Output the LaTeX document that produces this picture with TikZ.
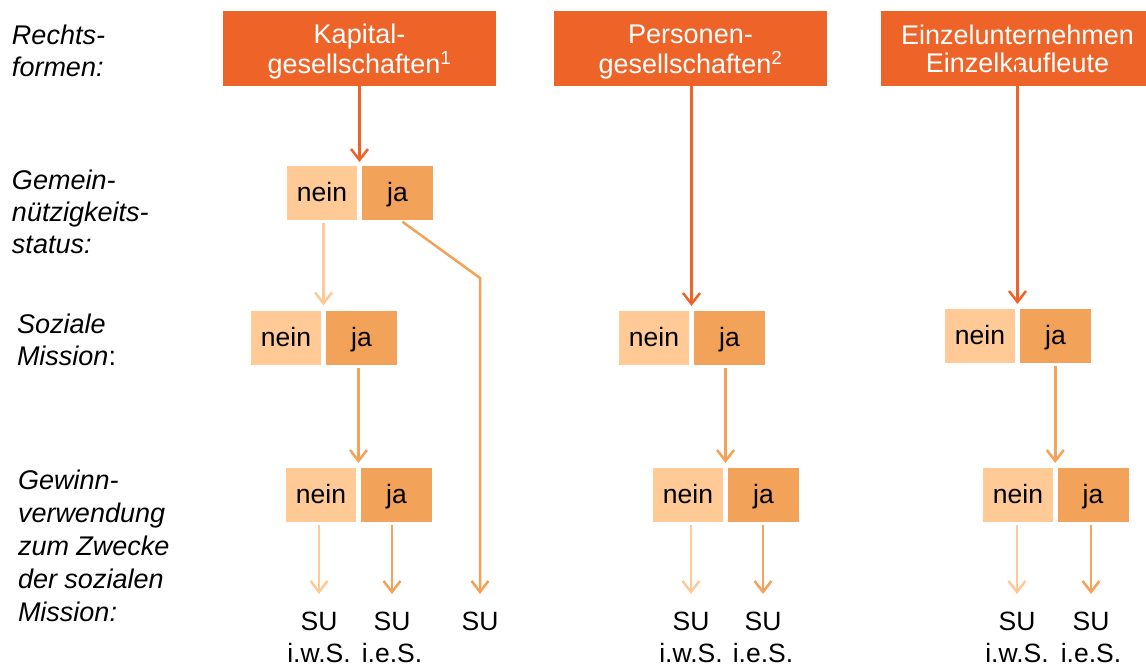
\documentclass[tikz,border=0pt]{standalone}
\usepackage{fontspec}
\setmainfont{Liberation Sans}
\usetikzlibrary{arrows.meta,calc}
\definecolor{dorange}{RGB}{238,100,40}
\definecolor{neinc}{RGB}{255,202,150}
\definecolor{jac}{RGB}{243,162,89}
\begin{document}
\begin{tikzpicture}[x=1pt,y=-1pt,
  every node/.style={inner sep=0pt, outer sep=0pt},
  topbox/.style={fill=dorange, text=white, minimum width=273pt, minimum height=75pt,
    align=center, font=\fontsize{27}{30}\selectfont},
  nbox/.style={fill=neinc, minimum width=70pt, minimum height=54pt,
    text height=19pt, text depth=2pt, font=\fontsize{26.5}{30}\selectfont},
  jbox/.style={fill=jac, minimum width=71pt, minimum height=54pt,
    text height=19pt, text depth=2pt, font=\fontsize{26.5}{30}\selectfont},
  lab/.style={anchor=north west, align=left, font=\fontsize{27}{32}\selectfont\itshape},
  sulab/.style={anchor=north, align=center, font=\fontsize{26.5}{32}\selectfont},
  darr/.style={draw=dorange, line width=2.5pt, -{Straight Barb[length=11pt,width=17pt]}},
  narr/.style={draw=neinc, line width=2.5pt, -{Straight Barb[length=11pt,width=17pt]}},
  jarr/.style={draw=jac, line width=2.5pt, -{Straight Barb[length=11pt,width=17pt]}},
]
\clip (0,0) rectangle (1146,666);
\fill[white] (0,0) rectangle (1146,666);

% left labels
\node[lab] (l1) at (12,25) {Rechts-\\formen:};
\node[lab] (l2) at (12,170) {Gemein-\\nützigkeits-\\status:};
\node[lab] (l3) at (17,314) {Soziale\\Mission\textup{:}};
\node[lab, font=\fontsize{27}{33}\selectfont\itshape] (l4) at (18,470)
  {Gewinn-\\verwendung\\zum Zwecke\\der sozialen\\Mission:};

% top boxes
\node[topbox] (kap) at (359.5,48.5) {\rule{0pt}{25pt}Kapital-\\gesellschaften\textsuperscript{1}};
\node[topbox] (per) at (690.5,48.5) {\rule{0pt}{25pt}Personen-\\gesellschaften\textsuperscript{2}};
\node[topbox, font=\fontsize{27}{28}\selectfont] (ein) at (1017.5,48.5) {Einzelunternehmen\\Einzelkaufleute};

% decision boxes
\node[nbox] (k1n) at (322,193) {nein};
\node[jbox] (k1j) at (397.5,193) {ja};
\node[nbox] (k2n) at (286,337.5) {nein};
\node[jbox] (k2j) at (361.5,337.5) {ja};
\node[nbox] (k3n) at (321,495) {nein};
\node[jbox] (k3j) at (396.5,495) {ja};
\node[nbox] (p2n) at (654,338) {nein};
\node[jbox] (p2j) at (729.5,338) {ja};
\node[nbox] (p3n) at (688,495) {nein};
\node[jbox] (p3j) at (763.5,495) {ja};
\node[nbox] (e2n) at (980,336) {nein};
\node[jbox] (e2j) at (1055.5,336) {ja};
\node[nbox] (e3n) at (1018,495) {nein};
\node[jbox] (e3j) at (1093,495) {ja};

\coordinate (k1g) at ($(k1n.north east)!.5!(k1j.north west)$);
\coordinate (k2g) at ($(k2n.north east)!.5!(k2j.north west)$);
\coordinate (k3g) at ($(k3n.north east)!.5!(k3j.north west)$);
\coordinate (p2g) at ($(p2n.north east)!.5!(p2j.north west)$);
\coordinate (p3g) at ($(p3n.north east)!.5!(p3j.north west)$);
\coordinate (e2g) at ($(e2n.north east)!.5!(e2j.north west)$);
\coordinate (e3g) at ($(e3n.north east)!.5!(e3j.north west)$);

% result labels
\node[sulab] (ks1) at (319,612) {SU\\i.w.S.};
\node[sulab] (ks2) at (392,612) {SU\\i.e.S.};
\node[sulab] (ks3) at (480,612) {SU};
\node[sulab] (ps1) at (691,612) {SU\\i.w.S.};
\node[sulab] (ps2) at (763,612) {SU\\i.e.S.};
\node[sulab] (es1) at (1017,612) {SU\\i.w.S.};
\node[sulab] (es2) at (1091,612) {SU\\i.e.S.};

% connectors from legal forms
\draw[darr, shorten >=4pt] (kap.south) -- (k1g);
\draw[darr, shorten >=5pt] (per.south -| p2g) -- (p2g);
\draw[darr, shorten >=5pt] ([yshift=26pt]ein.south) -- (e2g);

% Kapitalgesellschaften branch
\draw[narr, shorten <=3pt, shorten >=5pt] (k1n.south -| k2g) -- (k2g);
\coordinate (kb) at (480,278);
\draw[jarr, shorten <=3pt, shorten >=18pt] ([xshift=2.5pt]k1j.south) -- (kb) -- (ks3.north);
\draw[jarr, shorten <=3pt, shorten >=5pt] (k2j.south -| k3g) -- (k3g);
\draw[narr, shorten <=3pt, shorten >=18pt] (k3n.south -| ks1) -- (ks1.north);
\draw[jarr, shorten <=3pt, shorten >=18pt] (k3j.south -| ks2) -- (ks2.north);

% Personengesellschaften branch
\draw[jarr, shorten <=3pt, shorten >=5pt] (p2j.south -| p3g) -- (p3g);
\draw[narr, shorten <=3pt, shorten >=18pt] (p3n.south -| ps1) -- (ps1.north);
\draw[jarr, shorten <=3pt, shorten >=18pt] (p3j.south -| ps2) -- (ps2.north);

% Einzelunternehmen branch
\draw[jarr, shorten <=3pt, shorten >=5pt] (e2j.south -| e3g) -- (e3g);
\draw[narr, shorten <=3pt, shorten >=18pt] (e3n.south -| es1) -- (es1.north);
\draw[jarr, shorten <=3pt, shorten >=18pt] (e3j.south -| es2) -- (es2.north);
\end{tikzpicture}
\end{document}
